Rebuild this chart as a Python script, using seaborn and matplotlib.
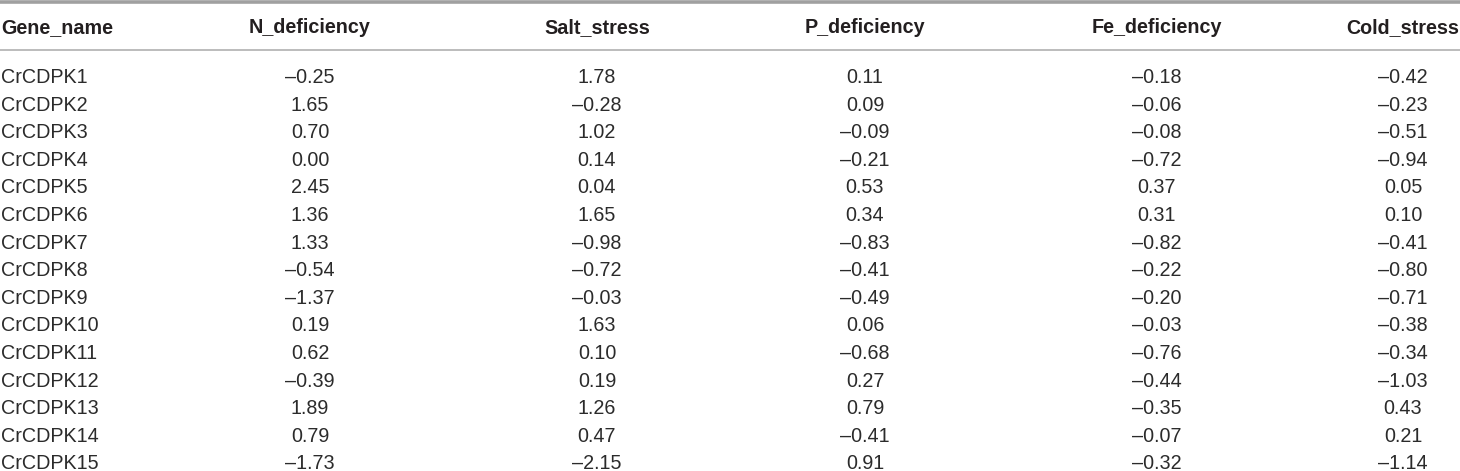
import matplotlib
matplotlib.use("Agg")
import matplotlib.pyplot as plt
import seaborn as sns
import pandas as pd

# ---- data ----
genes = [f"CrCDPK{i}" for i in range(1, 16)]
columns = ["Gene_name", "N_deficiency", "Salt_stress", "P_deficiency", "Fe_deficiency", "Cold_stress"]
n_deficiency = [-0.25, 1.65, 0.70, 0.00, 2.45, 1.36, 1.33, -0.54, -1.37, 0.19, 0.62, -0.39, 1.89, 0.79, -1.73]
salt_stress = [1.78, -0.28, 1.02, 0.14, 0.04, 1.65, -0.98, -0.72, -0.03, 1.63, 0.10, 0.19, 1.26, 0.47, -2.15]
p_deficiency = [0.11, 0.09, -0.09, -0.21, 0.53, 0.34, -0.83, -0.41, -0.49, 0.06, -0.68, 0.27, 0.79, -0.41, 0.91]
fe_deficiency = [-0.18, -0.06, -0.08, -0.72, 0.37, 0.31, -0.82, -0.22, -0.20, -0.03, -0.76, -0.44, -0.35, -0.07, -0.32]
cold_stress = [-0.42, -0.23, -0.51, -0.94, 0.05, 0.10, -0.41, -0.80, -0.71, -0.38, -0.34, -1.03, 0.43, 0.21, -1.14]

df = pd.DataFrame({
    "Gene_name": genes,
    "N_deficiency": n_deficiency,
    "Salt_stress": salt_stress,
    "P_deficiency": p_deficiency,
    "Fe_deficiency": fe_deficiency,
    "Cold_stress": cold_stress,
})

sns.set_theme(style="white")
plt.rcParams["font.family"] = ["Liberation Sans", "DejaVu Sans"]

W, H = 1460, 471
fig = plt.figure(figsize=(W / 100, H / 100), dpi=100)
ax = fig.add_axes([0, 0, 1, 1])
ax.set_xlim(0, W)
ax.set_ylim(H, 0)
ax.axis("off")

# layout (pixels, baselines)
col_x = [1, 310, 597, 865, 1157, 1403]
col_ha = ["left", "center", "center", "center", "center", "center"]
header_base = 33
row_base0 = 83
row_step = 27.6

def fmt(v):
    s = f"{abs(v):.2f}"
    return ("\u2013" + s) if v < 0 else s

# rules
ax.axhline(1.5, color="#a0a0a0", lw=2.6)
ax.axhline(50, color="#b0b0b0", lw=1.2)

for cx, ha, name in zip(col_x, col_ha, columns):
    ax.text(cx, header_base, name, ha=ha, va="baseline", fontsize=14.2,
            fontweight="bold", color="#231f20")

for i, row in df.iterrows():
    y = row_base0 + i * row_step
    for j, name in enumerate(columns):
        val = row[name]
        txt = val if j == 0 else fmt(val)
        ax.text(col_x[j], y, txt, ha=col_ha[j], va="baseline", fontsize=14.2,
                color="#2b2b2b")

fig.savefig("out.png", dpi=100, facecolor="white")
